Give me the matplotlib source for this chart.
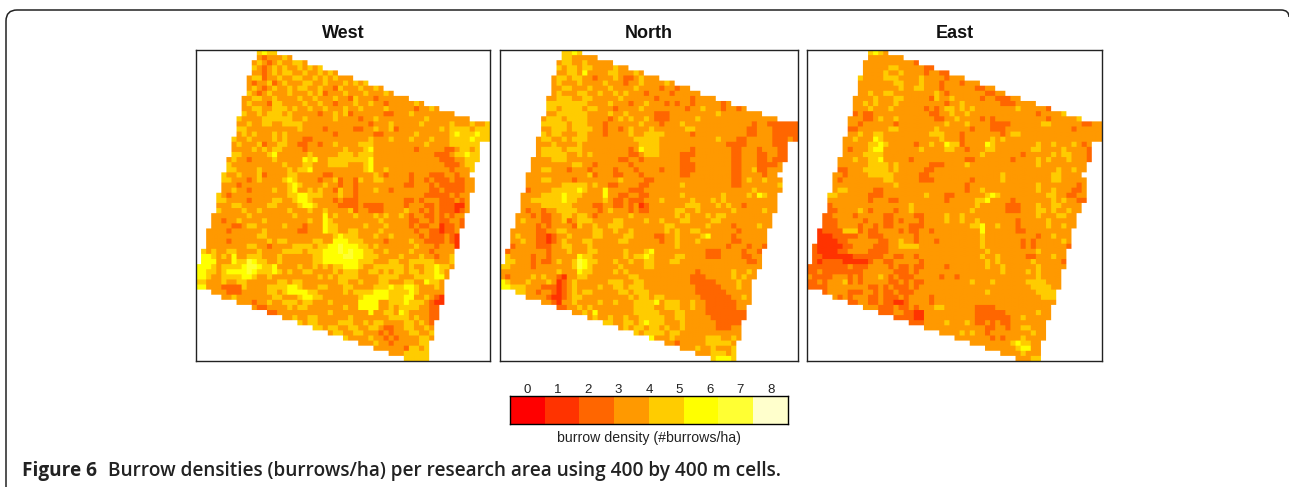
"""
Burrow density maps for the three research areas
"""

# import libraries
import numpy as np
import matplotlib.pyplot as plt
from matplotlib.colors import ListedColormap, to_rgb
from matplotlib.path import Path
from matplotlib.patches import PathPatch

W, H = 1289, 487

panel_names = ['West', 'North', 'East']

# density class of each raster cell, blanks only group the columns in tens
# a dot is a cell outside the research area
west_rows = [
".......... ..4544",
".......... ..3233343",
".......... .343234334 43",
".......... .432343433 43434",
".......... .332343443 34334343",
".......... 3442334334 4334343433 3",
".......... 3233423433 3443343334 3434",
".......... 3432343343 4433433243 3343343",
".......... 4323433343 3343423334 333433343",
".........3 3443343333 4334333433 2433323333 33",
".........3 4333244333 3433433233 3433433233 33343",
".........3 3443344434 3343343334 3343333433 33323343",
".........4 3343444343 3333233434 2333333223 3343333333 3",
"........43 3334444443 3433333433 3323343333 3333343333 3333",
"........33 4334433444 4333333333 3333233343 3333433333 43334334",
"........44 3333333333 4333323333 3223343342 3333333343 44443444",
"........34 3433343433 3333333233 3333322333 3334333333 45444544",
".......433 4333343433 3223333333 3333433343 3343334333 44445444",
".......343 3342334433 2233233433 3344433333 3333343333 444444",
".......333 3434344333 3233333334 3334533333 3332333332 234434",
".......443 3333453333 3343333344 4344433333 3333333222 344544",
"......3433 2333343333 3545334444 4444533333 3333333322 233444",
"......4333 3333333433 3443334444 3334533333 3333333332 22344",
"......4433 3343333343 4453333333 3334533433 3333333333 23334",
".....43343 3342333344 3333322333 3333343233 3323332223 3233",
".....44333 2343333454 3333233423 3243344333 3323323222 32233",
".....33323 3333333345 4333343323 3233333333 3223332322 22233",
".....33433 2333343345 3343433243 3233343323 3333332232 22233",
"....432333 3333333344 5544433343 3233333333 3333322222 3233",
"....443333 2333344334 5543333232 2233333333 3223233322 2323",
"....333443 3333443333 4554333322 2232222333 3233322322 2113",
"....433334 3343333343 3343343333 4233222333 3433232322 2123",
"...3333333 4333333334 3333353433 3433343433 4323322323 233",
"...3323343 3334333333 3343354333 3333334333 3322332322 332",
"...3333223 4433333433 3233354433 3334333433 3323223312 232",
"..33332333 3334333333 2233354433 4433334333 3332332212 23",
"..33333333 3344333333 3333333454 4433343343 3333232223 21",
"..33332333 3333434433 3334433555 4443333233 3343322223 21",
"..33333333 4433233334 4443445565 5544343333 3334333233 31",
".434334433 3343333444 4344455565 6554433433 3343332333 3",
".554343533 4443334333 3334455556 6554443333 4333433233 4",
".555333544 6544334333 3334455555 5544433344 3344444333 4",
"5554344445 6654453333 4334343445 5543344444 4343344544 3",
"5544345555 6544454343 3443333434 4433443434 4344344543",
"5543344445 5433433333 3333434344 4433334444 3334444553",
"4433343344 3333334434 4333333344 3343334433 344335443",
"5533322224 3333444455 4333443334 4333344454 455433343",
"...3332223 3333443455 5544333334 3444455544 445433333",
".....33433 3333344333 4554433333 3345555544 455334321",
"........33 3233433444 3443334333 3355553344 454443211",
".......... .322333343 4433333334 3355553343 44443322",
".......... ....223333 3333334333 3333533443 54333322",
".......... .......334 3344333333 4333333344 44343322",
".......... .......... 4344333344 4334344333 3443432",
".......... .......... ...4434433 4433443223 3443343",
".......... .......... ......3443 3443332323 3344334",
".......... .......... .........4 3333433232 3333443",
".......... .......... .......... ..33343323 333344",
".......... .......... .......... .....33333 324434",
".......... .......... .......... ........33 344444",
".......... .......... .......... .......... .44444",
]

north_rows = [
".......... ..4454",
".......... ..4433333",
".......... .344334333 33",
".......... .434434433 33433",
".......... .334435333 34433343",
".......... 3443443323 3343223433 3",
".......... 3433343333 4333233433 3343",
".......... 3344333433 3433334333 3233233",
".......... 3433344334 3343433323 333233333",
".........3 3444334433 3334333333 2333333233 33",
".........4 4444444333 3433323343 3323233233 33323",
".........4 4344443443 3323333433 3333332334 33323323",
".........3 3444444333 3433433333 2223333333 3343333333 3",
"........34 4434444333 3234343343 2223333343 3333333333 3333",
"........44 4443444333 2333333433 3233343333 3333333332 33222222",
"........33 4443444433 2332343334 3333334433 3333333322 33322222",
"........43 4433344333 2333343344 4433333233 3333333322 33322222",
".......344 3343444333 3333334444 4333333333 3343332233 33322232",
".......333 4333343333 3333333444 4333333333 3333222233 333222",
".......344 4434443333 3333323544 4333333233 3333322333 233322",
".......344 4443343433 3333322344 4333322233 3333322333 223322",
"......3333 4443333333 3332233233 3333322333 3333322333 223222",
"......3333 3333443323 3333323333 3333322233 3333322333 22223",
"......3344 3332333233 3323332333 3233322233 3333322334 22333",
".....33333 3333333423 3322333233 3333322333 3333322333 3233",
".....33344 3333233333 3334333322 3333333333 3333322343 34333",
".....33333 3344444343 3223333223 3333343333 3333322333 33334",
".....23333 4444454333 5333322233 3333333333 3333333334 33333",
"....333344 4454443333 5332233223 3333343333 3334333343 5433",
"....334444 4454433333 4322322233 3433333433 3434333333 3333",
"....333344 4444333322 3322323123 3333334443 3343433233 3333",
"....323323 3444433332 3433323223 3333443343 3333343333 3433",
"...3332322 3344344323 3333343333 3333434333 4344333333 333",
"...3433322 3342344433 3344333343 3433344333 3443333333 333",
"...3333232 3333243343 3444333333 3344333333 4333323333 433",
"..33333223 3443333344 3343343333 3343433443 3333332333 33",
"..34333221 2334333344 3333443333 2233433334 5333323333 33",
"..33433221 2343334433 3334433333 3233433343 3333322333 33",
"..23333222 3344333433 3333333333 3333433333 3333233323 32",
".233333332 3334333443 3333433345 3333333333 2223333233 2",
".433332332 3333354433 3333434454 3333443333 2223333223 3",
".443332322 3433465443 3343343344 3334433333 3333333322 3",
"4433332333 3333465433 3334333344 3333333333 3333333333 3",
"3333333333 3433354433 3343433333 3333333323 3333343343",
"3233334343 3213344333 3333344333 3333333222 3333343433",
"5433343334 3123433333 3444334433 3333333222 223333433",
"5544433322 2123433334 3344344433 3333333322 222333433",
"...4433233 2123434433 3334434443 3333333322 222233333",
".....33332 1123443333 3333343443 4433333332 222223343",
"........33 2133433334 3343334444 5344433433 222222333",
".......... .223343433 3333334444 3344433433 22222233",
".......... ....334353 3333334444 4333443333 22222222",
".......... .......343 3433433444 4433443333 32222222",
".......... .......... 4433443454 4433343333 3322222",
".......... .......... ...3434434 4343343333 3322233",
".......... .......... ......4344 4434433333 3333333",
".......... .......... .........5 3334333333 4443343",
".......... .......... .......... ..33233333 444443",
".......... .......... .......... .....33343 343334",
".......... .......... .......... ........33 344434",
".......... .......... .......... .......... .45554",
]

east_rows = [
".......... ..4543",
".......... ..3333333",
".......... .333333333 32",
".......... .333334433 33322",
".......... .333343343 33323322",
".......... 4333344433 3343333233 3",
".......... 3333333443 3343332333 2333",
".......... 3333333343 3443332333 3332233",
".......... 3343344333 3333343233 333332233",
".........3 3334333443 3333243343 3333233222 33",
".........3 3434333433 3333333233 4333333322 23333",
".........3 3343334333 3332323443 4343333333 34333332",
".........2 3223333333 3333223343 3433333333 3333323333 4",
"........33 3223433433 3333322334 3333232333 3333333233 3334",
"........33 2333333233 3333333433 3433332222 3333334433 33332233",
"........22 3333334433 3333343333 3323332223 3333333333 33233333",
"........33 4334433333 3333444333 2333333323 4433333333 33333333",
".......334 3335433333 3333334333 2333334343 3333333333 33333333",
".......333 3344543333 3233433544 2333354333 3333343343 334323",
".......323 3345533333 3343333443 3233344333 3333443333 433332",
".......333 3444433333 3333333333 3333433333 3323333343 443332",
"......3334 3344533333 2333333333 3223333333 2333343433 343332",
"......3333 3344443433 3333222333 3433333333 3333343333 33333",
"......2233 3444443433 3332233333 3333333333 3333333334 33433",
".....33233 3344444333 3322333333 3333333343 3333333344 3333",
".....32333 3333344333 3322233333 3323333343 3333333344 33333",
".....33333 3333333433 3333333333 3233333333 3333343333 33323",
".....34433 3332233333 3333333333 3233433333 3333343343 33223",
"....443333 3322233333 3334333223 3333345433 3333333443 32233",
"....333333 3323332233 3333333233 3334453333 2333333343 43322",
"....233333 3333333333 4333333333 3334333332 2233343344 3333",
"....223333 4323333233 4333333333 3343333332 2233344343 3433",
"...2233332 3333322333 3223333433 4333333333 3333343334 433",
"...2223333 3233322323 3323333433 4334333333 3233333433 333",
"...2223333 2332322333 2223333333 3344533433 3233333433 433",
"..12222444 2322333323 2233233333 3333533333 3223333333 33",
"..11122222 3322233333 3233333333 3333433333 3333323343 33",
"..11112233 3333223343 3233323333 3333433333 3323233333 43",
".211111223 3332223344 4433333333 3333433333 3323233333 32",
".211112233 3322223333 3333333333 3333343333 3333343333 3",
".221111112 2222233223 3233333333 3333433433 3332233343 3",
".212222111 1123322333 3323333333 3333343433 3333433333 2",
"2222222232 2233332322 3223333233 3333343343 3333343333 3",
"2232222222 2333333222 3233333333 3333333343 3334343333",
"3222233323 2333432322 2333332332 3333333333 3333343333",
"2232333423 2333332232 3223333333 3343334333 3334444333",
"2222333333 3322323222 3233333333 3333333333 3333444433",
"...2333322 2332322322 2333333333 3333343333 333334444",
".....32323 3322322232 3333233333 3333333333 333333444",
"........22 3322322112 3333233333 3333333333 333333333",
".......... .333222322 3233344333 3332222333 33333333",
".......... ....222332 2113333333 3332222223 33333433",
".......... .......222 2113333333 3332222222 33433333",
".......... .......... 2223333433 3432232322 3333333",
".......... .......... ...3333333 3333322332 3344333",
".......... .......... ......3333 4343323333 3333433",
".......... .......... .........3 3333332323 3343333",
".......... .......... .......... ..33333333 454433",
".......... .......... .......... .....33333 345533",
".......... .......... .......... ........33 334333",
".......... .......... .......... .......... .33344",
]

class_colours = ['#FF0000', '#FF3300', '#FF6600', '#FF9900',
                 '#FFCC00', '#FFFF00', '#FFFF33', '#FFFFCC']
density_labels = ['0', '1', '2', '3', '4', '5', '6', '7', '8']

caption_bold = 'Figure 6'
caption_text = 'Burrow densities (burrows/ha) per research area using 400 by 400 m cells.'

# turn the row strings into an rgb raster, white outside the area
def rows_to_rgb(rows):
    clean = [r.replace(' ', '') for r in rows]
    ncol = 58
    rgb = np.ones((len(clean), ncol, 3))
    for i, r in enumerate(clean):
        for j, c in enumerate(r[:ncol]):
            if c != '.':
                rgb[i, j] = to_rgb(class_colours[int(c)])
    # repeat cells so bilinear only softens the cell edges a little
    return np.repeat(np.repeat(rgb, 5, axis=0), 5, axis=1)

# axes from pixel box of the reference
def px_axes(fig, x0, y0, x1, y1):
    return fig.add_axes([x0/W, 1-y1/H, (x1-x0)/W, (y1-y0)/H])

cmap = ListedColormap(class_colours)

fig = plt.figure(figsize=(W/100, H/100), dpi=100)
plt.rcParams['font.family'] = ['Liberation Sans', 'DejaVu Sans']

# background layer with the rounded frame
bg = fig.add_axes([0, 0, 1, 1])
bg.set_xlim(0, W)
bg.set_ylim(H, 0)
bg.axis('off')
frame = Path([(6, H), (6, 21), (6, 10), (17, 10), (1281, 10), (1289, 10), (1289, 17)],
             [Path.MOVETO, Path.LINETO, Path.CURVE3, Path.CURVE3, Path.LINETO, Path.CURVE3, Path.CURVE3])
bg.add_patch(PathPatch(frame, fc='none', ec='#222222', lw=1.1, clip_on=False))

# map panels
boxes = [(196, 50, 490, 361), (500, 50, 798, 361), (807, 50, 1102, 361)]
all_rows = [west_rows, north_rows, east_rows]
for name, box, rows in zip(panel_names, boxes, all_rows):
    ax = px_axes(fig, *box)
    ax.imshow(rows_to_rgb(rows), aspect='auto', interpolation='bilinear')
    ax.set_xticks([])
    ax.set_yticks([])
    for s in ax.spines.values():
        s.set_linewidth(1.0)
        s.set_color('#222222')
    fig.text((box[0]+box[2])/2/W, 1-33/H, name, ha='center', va='center',
             fontsize=13, fontweight='bold', color='#111111')

# class legend
cax = px_axes(fig, 510, 396, 788, 424)
cax.imshow(np.arange(len(class_colours)).reshape(1, -1), cmap=cmap, vmin=-0.5, vmax=7.5,
           aspect='auto', interpolation='nearest')
cax.set_yticks([])
cax.xaxis.tick_top()
cax.set_xticks(np.linspace(0, 7, len(density_labels)))
cax.set_xticklabels(density_labels, fontsize=9.5, color='#222222')
cax.tick_params(axis='x', length=0, pad=0)
for s in cax.spines.values():
    s.set_linewidth(1.0)
fig.text(649/W, 1-438/H, 'burrow density (#burrows/ha)', ha='center', va='center',
         fontsize=10.2, color='#222222')

# caption
fig.text(22/W, 1-471/H, caption_bold, ha='left', va='center', fontsize=13.7,
         fontweight='bold', family=['Open Sans', 'DejaVu Sans'], color='#222222')
fig.text(108/W, 1-471/H, caption_text, ha='left', va='center', fontsize=13.7,
         fontweight='semibold', family=['Open Sans', 'DejaVu Sans'], color='#222222')

fig.savefig('out.png', dpi=100)
plt.close()
